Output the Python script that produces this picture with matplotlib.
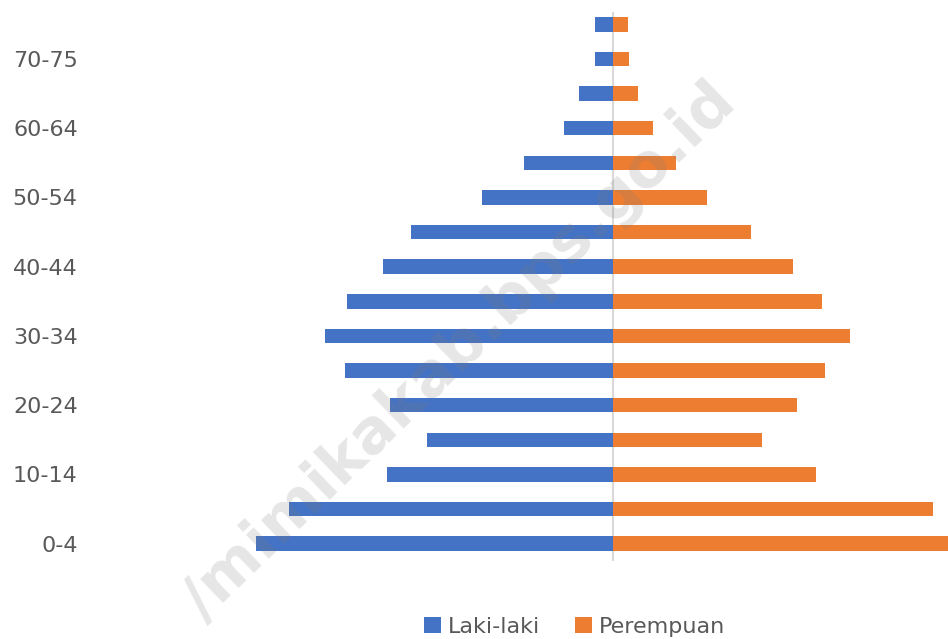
import numpy as np
import matplotlib.pyplot as plt

# age groups, bottom to top
kelompok_umur = ['0-4', '5-9', '10-14', '15-19', '20-24', '25-29', '30-34', '35-39',
                 '40-44', '45-49', '50-54', '55-59', '60-64', '65-69', '70-75', '75+']
# values (relative units)
laki_laki = [357, 324, 226, 186, 223, 268, 288, 266, 230, 202, 131, 89, 49, 34, 18, 18]
perempuan = [335, 320, 203, 149, 184, 212, 237, 209, 180, 138, 94, 63, 40, 25, 16, 15]
label_tampil = ['0-4', '10-14', '20-24', '30-34', '40-44', '50-54', '60-64', '70-75']

BIRU = '#4472C4'
ORANYE = '#ED7D31'
ABU = '#595959'

fig = plt.figure(figsize=(9.48, 6.39), dpi=100)
ax = fig.add_axes([100/948, 1 - 561/639, 848/948, 554/639])

y = np.arange(len(kelompok_umur))
ax.barh(y, -np.array(laki_laki), height=0.42, color=BIRU, label='Laki-laki')
ax.barh(y, perempuan, height=0.42, color=ORANYE, label='Perempuan')

ax.set_xlim(100 - 613, 948 - 613)
ax.set_ylim(-0.5, len(kelompok_umur) - 0.5)
ax.axvline(0, color='#D9D9D9', lw=1.5, zorder=0, ymin=0, ymax=0.99)

ax.set_yticks([kelompok_umur.index(l) for l in label_tampil])
ax.set_yticklabels(label_tampil, fontsize=16, color=ABU)
ax.tick_params(axis='y', length=0, pad=16)
ax.set_xticks([])
for s in ax.spines.values():
    s.set_visible(False)

fig.legend(loc='lower center', bbox_to_anchor=(0.606, -0.028), ncol=2, frameon=False,
           fontsize=16, handlelength=0.75, handleheight=0.75, handletextpad=0.3,
           columnspacing=1.6, labelcolor=ABU)

# watermark
fig.text(0.485, 0.45, '/mimikakab.bps.go.id', fontsize=44, fontweight='semibold',
         color='gray', alpha=0.2, rotation=44, ha='center', va='center')

fig.savefig('out.png', dpi=100)
